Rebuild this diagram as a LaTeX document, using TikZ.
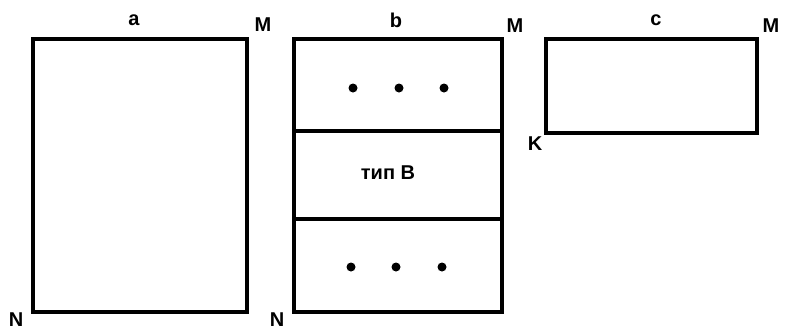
\documentclass[tikz,border=0pt]{standalone}
\usepackage{fontspec}
\setmainfont{Liberation Sans}
\begin{document}
\begin{tikzpicture}[x=1pt,y=-1pt,
  box/.style={line width=3.5pt,line join=miter},
  lbl/.style={font=\fontsize{20}{20}\selectfont\bfseries,inner sep=0pt},
  dotmark/.style={fill=black}]
\useasboundingbox (0,0) rectangle (785,330);
% rectangle a
\draw[box] (33,39) rectangle (247,312);
% rectangle b
\draw[box] (294,39) rectangle (502,312);
\draw[box] (294,131) -- (502,131);
\draw[box] (294,219) -- (502,219);
% rectangle c
\draw[box] (546,39) rectangle (757,133);
% labels
\node[lbl] (la) at (134,20) {a};
\node[lbl] (ma) at (263,25) {M};
\node[lbl] (lb) at (396,20) {b};
\node[lbl] (mb) at (515,26) {M};
\node[lbl] (lc) at (656,20) {c};
\node[lbl] (mc) at (771,26) {M};
\node[lbl] (k) at (535,144) {K};
\node[lbl] (na) at (16,320) {N};
\node[lbl] (nb) at (277,320) {N};
\node[lbl] (tip) at (388,173) {тип B};
% dots
\foreach \x in {353,399,444} \fill[dotmark] (\x,88) circle (4.5);
\foreach \x in {351,396,442} \fill[dotmark] (\x,267) circle (4.5);
\end{tikzpicture}
\end{document}
